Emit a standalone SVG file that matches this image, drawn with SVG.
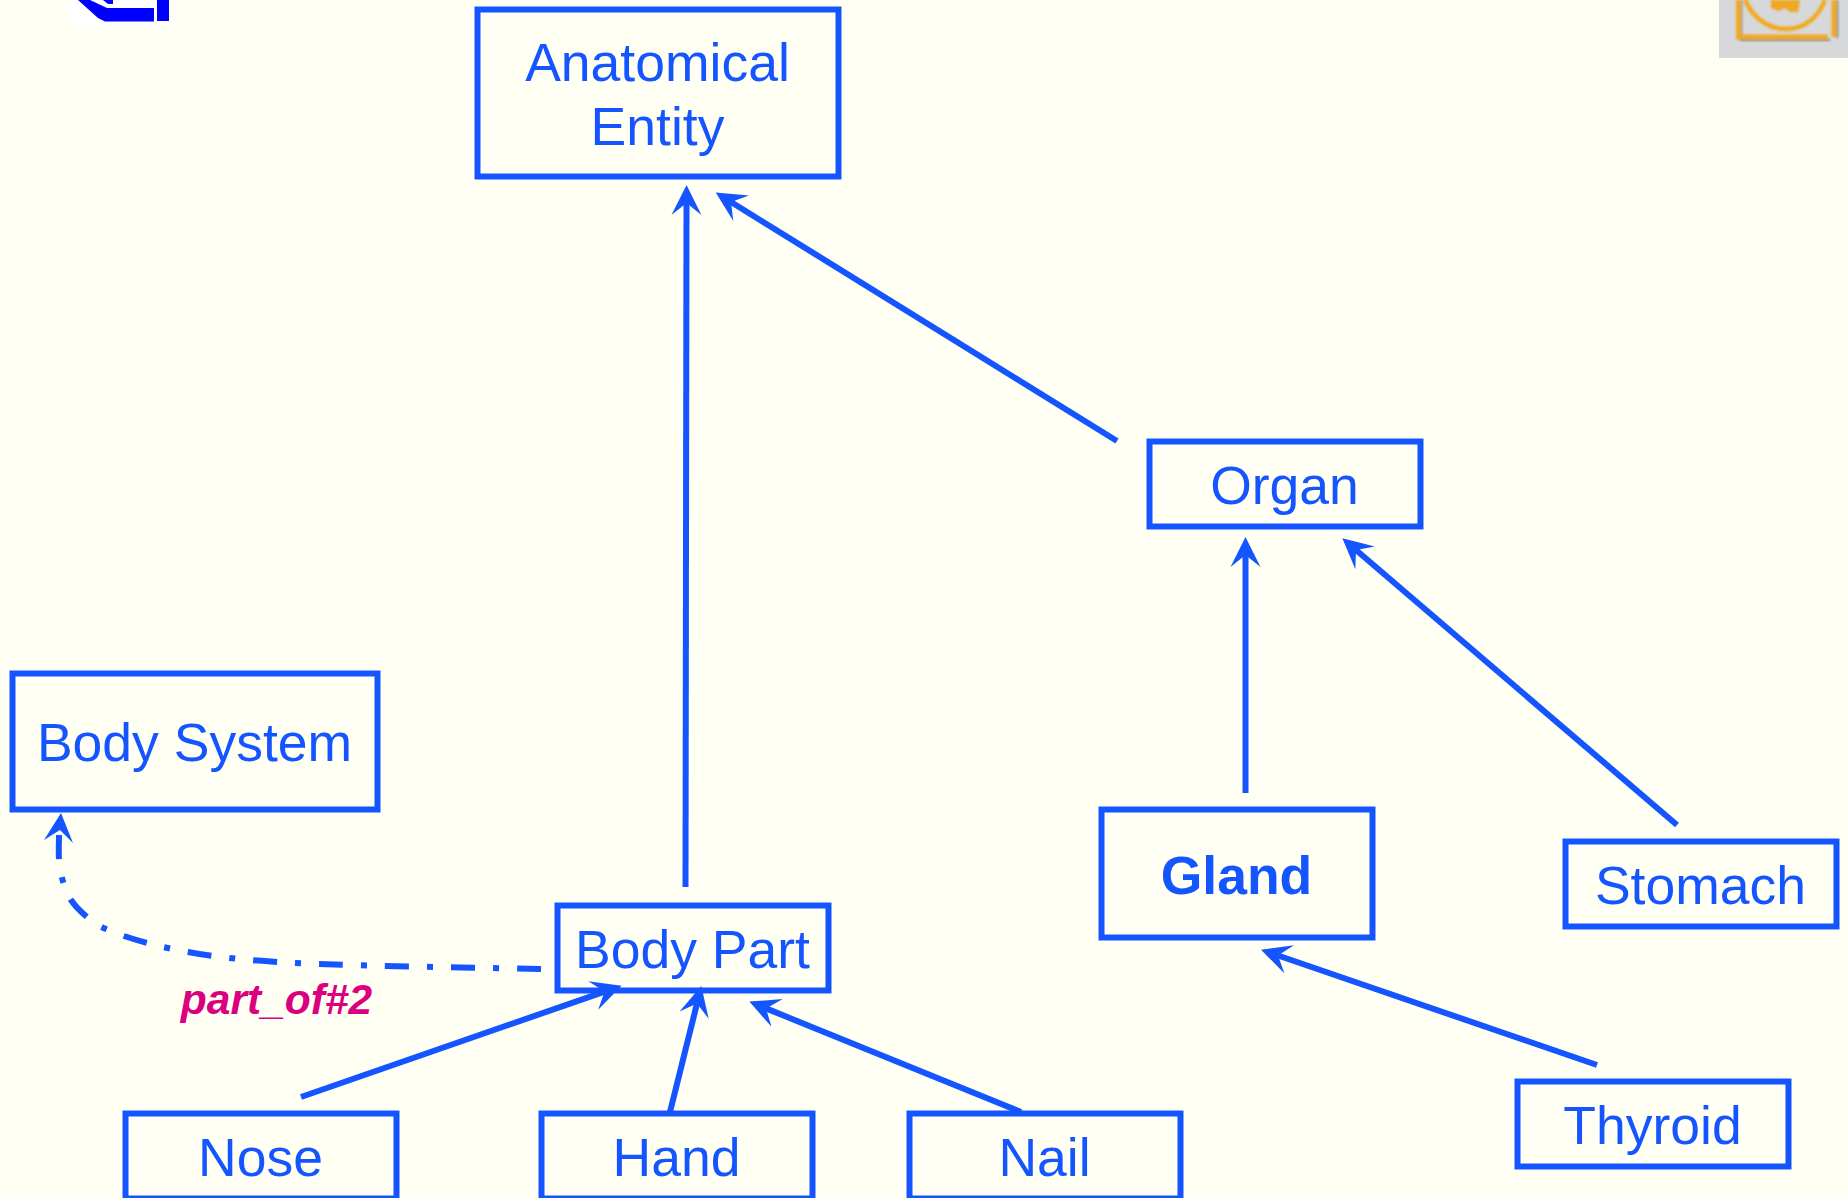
<svg xmlns="http://www.w3.org/2000/svg" width="1848" height="1198" viewBox="0 0 1848 1198">
<style>
.box{fill:none;stroke:#1455ff;stroke-width:6}
.t{font-family:"Liberation Sans",Arial,sans-serif;font-size:53.5px;fill:#1455ff;text-anchor:middle}
.c{fill:none;stroke:#1455ff;stroke-width:6}
.h{fill:#1455ff;stroke:none}
</style>
<defs>
<marker id="a" markerUnits="userSpaceOnUse" markerWidth="34" markerHeight="32" refX="12" refY="16" orient="auto"><path class="h" d="M0 1 L30 16 L0 31 L12 16 Z"/></marker>
<filter id="soft" x="-5%" y="-5%" width="110%" height="110%"><feGaussianBlur stdDeviation="1"/></filter>
</defs>
<rect width="1848" height="1198" fill="#fffff4"/>
<g id="icon-left">
<rect x="68" y="0" width="105" height="27" fill="#ffffff"/>
<path d="M78 0 L98 18 L105 21.5 L154 21.5 L154 8 L107 8 L90 0 Z" fill="#0000ff"/>
<path d="M103 0 L108 4 L113 4 L113 0 Z" fill="#0000ff"/>
<rect x="157" y="0" width="12" height="21" fill="#0000ff"/>
</g>
<g id="icon-right">
<rect x="1719" y="0" width="129" height="58" fill="#d6d8d9"/>
<g filter="url(#soft)">
<path d="M1741 0 V40 H1830 M1837 0 V38" fill="none" stroke="#9a9a90" stroke-width="3"/>
<path d="M1738.5 0 V37 H1828 M1834 0 V37" fill="none" stroke="#f2a91f" stroke-width="5"/>
<path d="M1745 0 C1755 22 1772 29 1786 29 C1804 29 1818 18 1825 0" fill="none" stroke="#f2a91f" stroke-width="4.5"/>
<path d="M1771 0 L1771 8 L1779 11 L1785 8 L1790 12 L1798 12 L1800 0 Z" fill="#eea726"/>
</g>
</g>
<g id="connectors">
<path class="c" marker-end="url(#a)" d="M685.5 887 L686.5 203"/>
<path class="c" marker-end="url(#a)" d="M1117 441 L731 202"/>
<path class="c" marker-end="url(#a)" d="M1245.5 793 L1245.5 555"/>
<path class="c" marker-end="url(#a)" d="M1677 825 L1356 550"/>
<path class="c" marker-end="url(#a)" d="M1597 1065 L1278 955.5"/>
<path class="c" marker-end="url(#a)" d="M301 1097 L604.6 991.6"/>
<path class="c" marker-end="url(#a)" d="M670 1112 L697 1003.5"/>
<path class="c" marker-end="url(#a)" d="M1021 1112 L766 1008.4"/>
<path class="c" stroke-dasharray="24 18 6 18" d="M541 969 C450 967 340 966 278 962 C245 960 215 957 188 952 C165 948 145 943 124 936 C105 929 95 925 87 917 C80 911 75 906 71 900 C65 890 62 880 60 868 C58 858 59 845 59 834"/>
<path class="h" d="M61 813 L44 840 L60 830 L73 843 Z"/>
</g>
<g id="anatomical-entity"><rect class="box" x="477.5" y="9.5" width="361" height="167"/><text class="t" x="657.5" y="81">Anatomical</text><text class="t" x="657.5" y="145">Entity</text></g>
<g id="organ"><rect class="box" x="1149.500" y="441.500" width="271" height="85"/><text class="t" x="1284.500" y="504">Organ</text></g>
<g id="body-system"><rect class="box" x="12.500" y="673.500" width="365" height="136"/><text class="t" x="194.500" y="761">Body System</text></g>
<g id="gland"><rect class="box" x="1101.500" y="809.500" width="271" height="128"/><text class="t" x="1236.500" y="894" font-weight="bold">Gland</text></g>
<g id="stomach"><rect class="box" x="1565.500" y="841.500" width="271" height="85"/><text class="t" x="1700.500" y="904">Stomach</text></g>
<g id="body-part"><rect class="box" x="557.500" y="905.500" width="271" height="85"/><text class="t" x="692.500" y="968">Body Part</text></g>
<g id="nose"><rect class="box" x="125.500" y="1113.500" width="271" height="85"/><text class="t" x="260.500" y="1176">Nose</text></g>
<g id="hand"><rect class="box" x="541.500" y="1113.500" width="271" height="85"/><text class="t" x="676.500" y="1176">Hand</text></g>
<g id="nail"><rect class="box" x="909.500" y="1113.500" width="271" height="85"/><text class="t" x="1044.500" y="1176">Nail</text></g>
<g id="thyroid"><rect class="box" x="1517.500" y="1081.500" width="271" height="85"/><text class="t" x="1652.500" y="1144">Thyroid</text></g>
<text x="276.500" y="1014" font-family="'Liberation Sans',Arial,sans-serif" font-size="42.500" font-weight="bold" font-style="italic" fill="#db007f" text-anchor="middle">part_of#2</text>
</svg>
